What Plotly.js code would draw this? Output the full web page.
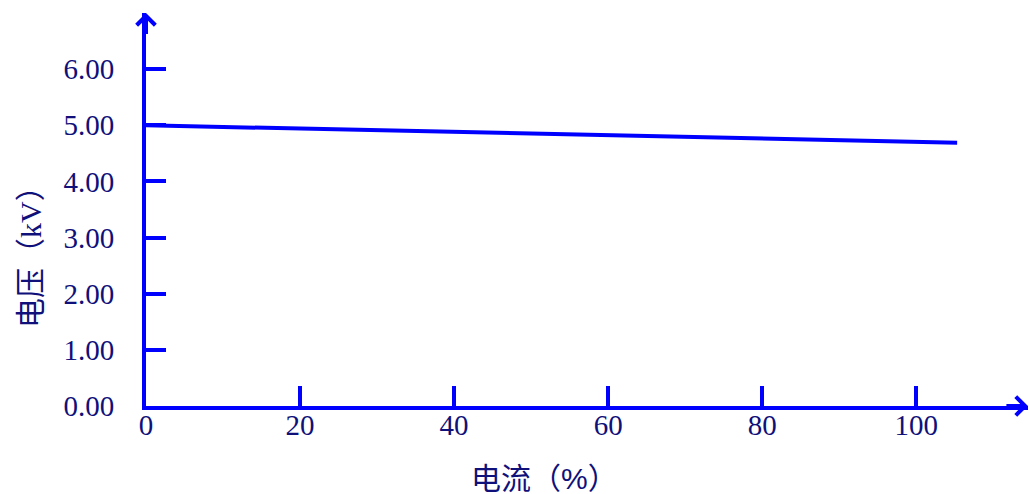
<!DOCTYPE html>
<html>
<head>
<meta charset="utf-8">
<script src="https://cdn.plot.ly/plotly-3.0.1.min.js"></script>
<style>html,body{margin:0;padding:0;background:#fff;}#chart{width:1030px;height:494px;}</style>
</head>
<body>
<div id="chart"></div>
<script>
// Data
const currentPct = [0, 105.3];
const voltageKV = [5.00, 4.69];
const xTickVals = [0, 20, 40, 60, 80, 100];
const yTickVals = [0, 1, 2, 3, 4, 5, 6];
const yTickText = ['0.00', '1.00', '2.00', '3.00', '4.00', '5.00', '6.00'];
const xTitle = '电流（<span style="font-family:Arial,Liberation Sans,sans-serif">%</span>）';
const yTitle = '电压（kV）';

const xMax = 114.5, yMax = 7.0;
const blue = '#0000ff';
const navy = '#10107a';
const serif = '"Liberation Serif", "Times New Roman", serif';
const cjk = '"Liberation Serif", "Noto Sans CJK SC", serif';

const trace = {
  x: currentPct, y: voltageKV, mode: 'lines',
  line: {color: blue, width: 4}, hoverinfo: 'skip', showlegend: false, cliponaxis: false
};

const layout = {
  width: 1030, height: 494,
  margin: {l: 146, r: 2, t: 13, b: 88},
  paper_bgcolor: '#fff', plot_bgcolor: '#fff',
  showlegend: false,
  xaxis: {
    range: [0, xMax], showgrid: false, zeroline: false,
    showline: true, linecolor: blue, linewidth: 4,
    tickvals: xTickVals, ticks: 'inside', ticklen: 20, tickwidth: 4, tickcolor: blue,
    tickfont: {family: serif, size: 29, color: navy},
    ticklabelstandoff: -10
  },
  yaxis: {
    range: [0, yMax], showgrid: false, zeroline: false,
    showline: true, linecolor: blue, linewidth: 4,
    tickvals: yTickVals, ticktext: yTickText, ticks: 'inside', ticklen: 20, tickwidth: 4, tickcolor: blue,
    tickfont: {family: serif, size: 29, color: navy},
    ticklabelstandoff: 22
  },
  annotations: [
    {x: xMax, y: 0, ax: xMax - 3, ay: 0, xref: 'x', yref: 'y', axref: 'x', ayref: 'y',
     showarrow: true, arrowhead: 4, arrowsize: 0.9, arrowwidth: 4, arrowcolor: blue, text: '', standoff: 0},
    {x: 0, y: yMax, ax: 0, ay: yMax - 0.4, xref: 'x', yref: 'y', axref: 'x', ayref: 'y',
     showarrow: true, arrowhead: 4, arrowsize: 0.9, arrowwidth: 4, arrowcolor: blue, text: '', standoff: 0},
    {text: xTitle, xref: 'paper', yref: 'paper', x: (544 - 146) / 882, y: -(478 - 406) / 393,
     xanchor: 'center', yanchor: 'middle', showarrow: false,
     font: {family: cjk, size: 30, color: navy}},
    {text: yTitle, xref: 'paper', yref: 'paper', x: -(146 - 30) / 882, y: (406 - 250) / 393,
     xanchor: 'center', yanchor: 'middle', showarrow: false, textangle: -90,
     font: {family: cjk, size: 30, color: navy}}
  ]
};

Plotly.newPlot('chart', [trace], layout, {displayModeBar: false, staticPlot: true});
</script>
</body>
</html>
